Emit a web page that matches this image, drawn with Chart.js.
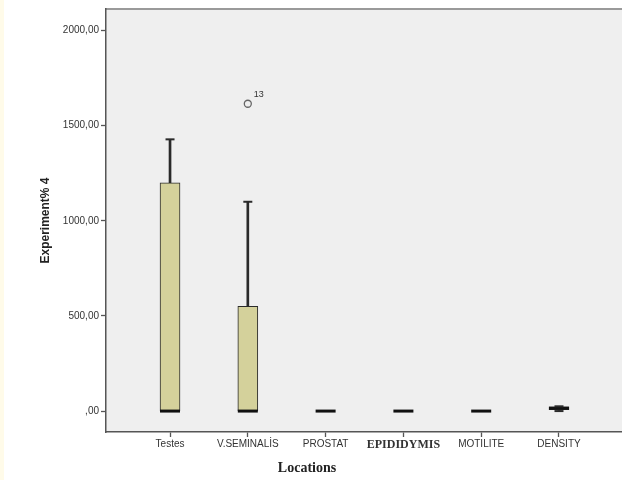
<!DOCTYPE html>
<html>
<head>
<meta charset="utf-8">
<script src="https://cdn.jsdelivr.net/npm/chart.js@4/dist/chart.umd.min.js"></script>
<style>
  html, body { margin: 0; padding: 0; background: #fff; }
  .wrap {
    width: 622px; height: 480px;
    background: linear-gradient(to right, #fffbe9 4px, #ffffff 4px);
  }
</style>
</head>
<body>
<div class="wrap"><canvas id="box" width="622" height="480"></canvas></div>
<script>
// box plot values per location
const categories = ['Testes', 'V.SEMINALİS', 'PROSTAT', 'EPIDIDYMIS', 'MOTILITE', 'DENSITY'];
const mins    = [0,    0,    0, 0, 0, 0];
const q1s     = [0,    0,    0, 0, 0, 8];
const medians = [0,    0,    0, 0, 0, 15];
const q3s     = [1200, 550,  0, 0, 0, 22];
const maxs    = [1428, 1100, 0, 0, 0, 25];

const outlierCat   = [1];
const outlierVal   = [1615];
const outlierLabel = ['13'];

const yTicks = [0, 500, 1000, 1500, 2000];

const xTitle = 'Locations';

const C = {
  panel:  '#efefef',
  frame:  '#9a9a9a',
  axis:   '#555555',
  box:    '#d4d19b',
  ink:    '#2a2a2a',
  text:   '#333333'
};

const idx = categories.map((c, i) => i);

// caps only where the whisker actually leaves the box
const caps = [];
idx.forEach(i => {
  if (maxs[i] > q3s[i]) caps.push({ x: i, y: maxs[i] });
  if (mins[i] < q1s[i]) caps.push({ x: i, y: mins[i] });
});

const panelBg = {
  id: 'panelBg',
  beforeDraw(chart) {
    const { ctx, chartArea: a } = chart;
    ctx.save();
    ctx.fillStyle = C.panel;
    ctx.fillRect(a.left, a.top, a.right - a.left, a.bottom - a.top);
    ctx.strokeStyle = C.frame;
    ctx.lineWidth = 2;
    ctx.beginPath();
    ctx.moveTo(a.left, a.top);
    ctx.lineTo(a.right, a.top);
    ctx.stroke();
    ctx.restore();
  }
};

// outlier case number + x title (SPSS centres it on the whole figure, not the plot)
const extraText = {
  id: 'extraText',
  afterDatasetsDraw(chart) {
    const meta = chart.getDatasetMeta(0);
    const ctx = chart.ctx;
    ctx.save();
    ctx.fillStyle = C.text;
    ctx.font = '9px "Liberation Sans", Arial, sans-serif';
    ctx.textBaseline = 'middle';
    meta.data.forEach((pt, i) => {
      ctx.fillText(outlierLabel[i], pt.x + 6, pt.y - 9);
    });
    ctx.fillStyle = '#222';
    ctx.font = 'bold 14px "Liberation Serif", "Times New Roman", serif';
    ctx.textAlign = 'center';
    ctx.fillText(xTitle, chart.width / 2 - 4, chart.height - 12);
    ctx.restore();
  }
};

new Chart(document.getElementById('box'), {
  type: 'bar',
  data: {
    datasets: [
      {
        type: 'scatter', order: 0,
        data: outlierCat.map((c, i) => ({ x: c, y: outlierVal[i] })),
        pointStyle: 'circle', pointRadius: 3.5,
        backgroundColor: 'rgba(0,0,0,0)', borderColor: '#666', borderWidth: 1.3
      },
      {
        type: 'scatter', order: 1,
        data: caps,
        pointStyle: 'line', pointRadius: 4.5,
        borderColor: C.ink, borderWidth: 2
      },
      {
        type: 'scatter', order: 2,
        data: idx.map(i => ({ x: i, y: medians[i] })),
        pointStyle: 'line', pointRadius: 10,
        borderColor: '#111', borderWidth: 3
      },
      {
        order: 3, grouped: false,
        data: idx.map(i => ({ x: i, y: [q1s[i], q3s[i]] })),
        backgroundColor: C.box, borderColor: C.ink, borderWidth: 1,
        borderSkipped: false, barThickness: 20
      },
      {
        order: 4, grouped: false,
        data: idx.map(i => ({ x: i, y: [mins[i], maxs[i]] })),
        backgroundColor: C.ink, borderWidth: 0, barThickness: 2
      }
    ]
  },
  options: {
    responsive: false,
    animation: false,
    layout: { autoPadding: false, padding: { top: 9, right: 0, left: 0, bottom: 0 } },
    plugins: {
      legend: { display: false },
      tooltip: { enabled: false }
    },
    scales: {
      x: {
        type: 'linear',
        offset: false,
        min: -0.823, max: 5.81,
        afterBuildTicks: s => { s.ticks = idx.map(i => ({ value: i })); },
        afterFit: s => { s.height = 48; },
        grid: { offset: false, drawOnChartArea: false, drawTicks: true, tickLength: 5, tickColor: C.axis, tickWidth: 1.3 },
        border: { display: true, color: C.axis, width: 1.5 },
        ticks: {
          padding: 1,
          color: C.text,
          maxRotation: 0,
          callback: v => categories[v],
          font: ctx => ctx.index === 3
            ? { family: '"Liberation Serif", "Times New Roman", serif', size: 12, weight: 'bold' }
            : { family: '"Liberation Sans", Arial, sans-serif', size: 10 }
        },
        title: { display: false }
      },
      y: {
        min: -110, max: 2113,
        afterBuildTicks: s => { s.ticks = yTicks.map(v => ({ value: v })); },
        afterFit: s => { s.width = 106; },
        grid: { drawOnChartArea: false, drawTicks: true, tickLength: 5, tickColor: C.axis, tickWidth: 1.3 },
        border: { display: true, color: C.axis, width: 1.5 },
        ticks: {
          padding: 2,
          color: C.text,
          font: { family: '"Liberation Sans", Arial, sans-serif', size: 10 },
          callback: v => (v === 0 ? '' : v) + ',00'
        },
        title: {
          display: true, text: 'Experiment% 4', color: '#222',
          font: { family: '"Liberation Sans", Arial, sans-serif', size: 12, weight: 'bold' },
          padding: { top: 38, bottom: 0 }
        }
      }
    }
  },
  plugins: [panelBg, extraText]
});
</script>
</body>
</html>
